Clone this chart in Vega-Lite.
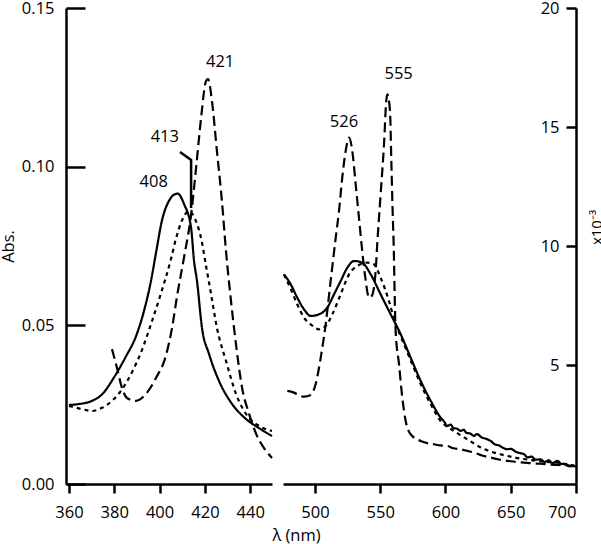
{
  "$schema": "https://vega.github.io/schema/vega-lite/v6.json",
  "autosize": {"type": "pad"},
  "padding": {"left": 0, "top": 0, "right": 0, "bottom": 0},
  "background": "white",
  "config": {
    "view": {"stroke": null},
    "font": "Open Sans",
    "axis": {
      "grid": false,
      "domainColor": "black",
      "domainWidth": 2.5,
      "tickColor": "black",
      "tickWidth": 2.5,
      "labelFont": "Open Sans",
      "labelFontSize": 16.5,
      "labelColor": "black",
      "titleFont": "Open Sans",
      "titleFontSize": 16.5,
      "titleColor": "black",
      "titleFontWeight": "normal"
    }
  },
  "datasets": {
    "left": [
      {"s": "solid", "x": 360, "y": 0.0249}, {"s": "solid", "x": 364.4, "y": 0.0252}, {"s": "solid", "x": 370.2, "y": 0.0262}, {"s": "solid", "x": 374.7, "y": 0.0283}, {"s": "solid", "x": 379.9, "y": 0.0336}, {"s": "solid", "x": 385, "y": 0.04}, {"s": "solid", "x": 389.6, "y": 0.0466}, {"s": "solid", "x": 393.1, "y": 0.0545}, {"s": "solid", "x": 396.2, "y": 0.064}, {"s": "solid", "x": 398.4, "y": 0.0728}, {"s": "solid", "x": 401.1, "y": 0.0832}, {"s": "solid", "x": 404.2, "y": 0.0893}, {"s": "solid", "x": 406, "y": 0.091}, {"s": "solid", "x": 408, "y": 0.0915}, {"s": "solid", "x": 410.8, "y": 0.0882}, {"s": "solid", "x": 413.9, "y": 0.0807}, {"s": "solid", "x": 415.2, "y": 0.0703}, {"s": "solid", "x": 416.5, "y": 0.064}, {"s": "solid", "x": 418.7, "y": 0.0492}, {"s": "solid", "x": 421.8, "y": 0.041}, {"s": "solid", "x": 426.2, "y": 0.0325}, {"s": "solid", "x": 432, "y": 0.0252}, {"s": "solid", "x": 438.1, "y": 0.0205}, {"s": "solid", "x": 443.9, "y": 0.0176}, {"s": "solid", "x": 449.6, "y": 0.0151},
      {"s": "dotted", "x": 360, "y": 0.0246}, {"s": "dotted", "x": 365.7, "y": 0.0236}, {"s": "dotted", "x": 370.2, "y": 0.023}, {"s": "dotted", "x": 374.6, "y": 0.024}, {"s": "dotted", "x": 379, "y": 0.0262}, {"s": "dotted", "x": 383.4, "y": 0.0298}, {"s": "dotted", "x": 387.8, "y": 0.0352}, {"s": "dotted", "x": 392.2, "y": 0.0422}, {"s": "dotted", "x": 396.6, "y": 0.0512}, {"s": "dotted", "x": 400.6, "y": 0.0601}, {"s": "dotted", "x": 405, "y": 0.0708}, {"s": "dotted", "x": 407.2, "y": 0.0772}, {"s": "dotted", "x": 409.9, "y": 0.0831}, {"s": "dotted", "x": 413, "y": 0.086}, {"s": "dotted", "x": 416, "y": 0.0829}, {"s": "dotted", "x": 418.3, "y": 0.0775}, {"s": "dotted", "x": 420.5, "y": 0.0687}, {"s": "dotted", "x": 422.7, "y": 0.0599}, {"s": "dotted", "x": 425.3, "y": 0.0492}, {"s": "dotted", "x": 429.3, "y": 0.0388}, {"s": "dotted", "x": 433.7, "y": 0.0284}, {"s": "dotted", "x": 439.5, "y": 0.0208}, {"s": "dotted", "x": 443.9, "y": 0.0183}, {"s": "dotted", "x": 449.6, "y": 0.0167},
      {"s": "dashed", "x": 379, "y": 0.0425}, {"s": "dashed", "x": 381.2, "y": 0.0366}, {"s": "dashed", "x": 383.4, "y": 0.0303}, {"s": "dashed", "x": 385.6, "y": 0.0271}, {"s": "dashed", "x": 389.6, "y": 0.0262}, {"s": "dashed", "x": 394, "y": 0.0284}, {"s": "dashed", "x": 398.4, "y": 0.0334}, {"s": "dashed", "x": 402.8, "y": 0.0405}, {"s": "dashed", "x": 405.5, "y": 0.0492}, {"s": "dashed", "x": 407.7, "y": 0.0592}, {"s": "dashed", "x": 410.8, "y": 0.0715}, {"s": "dashed", "x": 413.9, "y": 0.0848}, {"s": "dashed", "x": 416.1, "y": 0.0996}, {"s": "dashed", "x": 418.3, "y": 0.1153}, {"s": "dashed", "x": 420.5, "y": 0.127}, {"s": "dashed", "x": 421.4, "y": 0.1276}, {"s": "dashed", "x": 423.1, "y": 0.1207}, {"s": "dashed", "x": 425.3, "y": 0.1049}, {"s": "dashed", "x": 427.5, "y": 0.0892}, {"s": "dashed", "x": 429.3, "y": 0.0734}, {"s": "dashed", "x": 431.5, "y": 0.0577}, {"s": "dashed", "x": 433.7, "y": 0.0441}, {"s": "dashed", "x": 436.4, "y": 0.0303}, {"s": "dashed", "x": 439.5, "y": 0.0221}, {"s": "dashed", "x": 442.6, "y": 0.0158}, {"s": "dashed", "x": 446.1, "y": 0.0113}, {"s": "dashed", "x": 449.6, "y": 0.0082}
    ],
    "right": [
      {"s": "solid", "x": 476.2, "y": 8.81}, {"s": "solid", "x": 481.4, "y": 8.39}, {"s": "solid", "x": 486.4, "y": 7.83}, {"s": "solid", "x": 491.6, "y": 7.34}, {"s": "solid", "x": 496.7, "y": 7.06}, {"s": "solid", "x": 503.1, "y": 7.13}, {"s": "solid", "x": 509.4, "y": 7.41}, {"s": "solid", "x": 514.6, "y": 7.97}, {"s": "solid", "x": 519.7, "y": 8.53}, {"s": "solid", "x": 524.8, "y": 9.09}, {"s": "solid", "x": 529.9, "y": 9.37}, {"s": "solid", "x": 536.2, "y": 9.3}, {"s": "solid", "x": 542.7, "y": 8.81}, {"s": "solid", "x": 550.3, "y": 7.97}, {"s": "solid", "x": 558, "y": 7.13}, {"s": "solid", "x": 565.7, "y": 6.29}, {"s": "solid", "x": 573.3, "y": 5.31}, {"s": "solid", "x": 581, "y": 4.33}, {"s": "solid", "x": 588.7, "y": 3.49}, {"s": "solid", "x": 596.3, "y": 2.79}, {"s": "solid", "x": 599, "y": 2.62}, {"s": "solid", "x": 601.4, "y": 2.44}, {"s": "solid", "x": 604, "y": 2.5}, {"s": "solid", "x": 606, "y": 2.35}, {"s": "solid", "x": 609, "y": 2.32}, {"s": "solid", "x": 611.6, "y": 2.23}, {"s": "solid", "x": 614, "y": 2.28}, {"s": "solid", "x": 616, "y": 2.15}, {"s": "solid", "x": 619, "y": 2.12}, {"s": "solid", "x": 621.8, "y": 2.02}, {"s": "solid", "x": 624, "y": 2.1}, {"s": "solid", "x": 628, "y": 1.95}, {"s": "solid", "x": 631, "y": 1.9}, {"s": "solid", "x": 634.6, "y": 1.81}, {"s": "solid", "x": 638, "y": 1.66}, {"s": "solid", "x": 641, "y": 1.62}, {"s": "solid", "x": 644, "y": 1.52}, {"s": "solid", "x": 647.4, "y": 1.46}, {"s": "solid", "x": 650, "y": 1.48}, {"s": "solid", "x": 654, "y": 1.35}, {"s": "solid", "x": 657, "y": 1.3}, {"s": "solid", "x": 660.2, "y": 1.25}, {"s": "solid", "x": 663, "y": 1.12}, {"s": "solid", "x": 666, "y": 1.15}, {"s": "solid", "x": 669, "y": 1.02}, {"s": "solid", "x": 672.9, "y": 1.04}, {"s": "solid", "x": 676, "y": 0.92}, {"s": "solid", "x": 679, "y": 1.0}, {"s": "solid", "x": 682, "y": 0.88}, {"s": "solid", "x": 685.7, "y": 0.97}, {"s": "solid", "x": 689, "y": 0.84}, {"s": "solid", "x": 692, "y": 0.85}, {"s": "solid", "x": 695, "y": 0.74}, {"s": "solid", "x": 698.5, "y": 0.76}, {"s": "solid", "x": 700, "y": 0.72},
      {"s": "dotted", "x": 476.2, "y": 8.8}, {"s": "dotted", "x": 481.4, "y": 8.2}, {"s": "dotted", "x": 486.4, "y": 7.55}, {"s": "dotted", "x": 491.6, "y": 6.99}, {"s": "dotted", "x": 496.7, "y": 6.71}, {"s": "dotted", "x": 503.1, "y": 6.5}, {"s": "dotted", "x": 508.2, "y": 6.64}, {"s": "dotted", "x": 513.3, "y": 7.13}, {"s": "dotted", "x": 519.7, "y": 7.97}, {"s": "dotted", "x": 526.1, "y": 8.81}, {"s": "dotted", "x": 532.4, "y": 9.16}, {"s": "dotted", "x": 540.1, "y": 9.3}, {"s": "dotted", "x": 545.2, "y": 9.23}, {"s": "dotted", "x": 550.3, "y": 8.67}, {"s": "dotted", "x": 556.7, "y": 7.69}, {"s": "dotted", "x": 561.8, "y": 6.71}, {"s": "dotted", "x": 565.7, "y": 6.2}, {"s": "dotted", "x": 573.3, "y": 5.2}, {"s": "dotted", "x": 581, "y": 4.2}, {"s": "dotted", "x": 588.7, "y": 3.35}, {"s": "dotted", "x": 596.3, "y": 2.65}, {"s": "dotted", "x": 601.4, "y": 2.4}, {"s": "dotted", "x": 606.5, "y": 2.23}, {"s": "dotted", "x": 611.6, "y": 2.05}, {"s": "dotted", "x": 616.7, "y": 1.88}, {"s": "dotted", "x": 622, "y": 1.7}, {"s": "dotted", "x": 627, "y": 1.53}, {"s": "dotted", "x": 632, "y": 1.42}, {"s": "dotted", "x": 637.2, "y": 1.32}, {"s": "dotted", "x": 642, "y": 1.25}, {"s": "dotted", "x": 647.4, "y": 1.18}, {"s": "dotted", "x": 654, "y": 1.1}, {"s": "dotted", "x": 660.2, "y": 1.05}, {"s": "dotted", "x": 666, "y": 1.0}, {"s": "dotted", "x": 672.9, "y": 0.95}, {"s": "dotted", "x": 679, "y": 0.92}, {"s": "dotted", "x": 685.7, "y": 0.9}, {"s": "dotted", "x": 692, "y": 0.82}, {"s": "dotted", "x": 698.5, "y": 0.78},
      {"s": "dashed", "x": 478.8, "y": 3.91}, {"s": "dashed", "x": 483.9, "y": 3.84}, {"s": "dashed", "x": 488, "y": 3.72}, {"s": "dashed", "x": 491.6, "y": 3.67}, {"s": "dashed", "x": 496.7, "y": 3.74}, {"s": "dashed", "x": 500.5, "y": 4.19}, {"s": "dashed", "x": 504.4, "y": 5.31}, {"s": "dashed", "x": 508.2, "y": 6.71}, {"s": "dashed", "x": 512, "y": 8.53}, {"s": "dashed", "x": 515.9, "y": 10.35}, {"s": "dashed", "x": 518.4, "y": 11.47}, {"s": "dashed", "x": 520.9, "y": 12.87}, {"s": "dashed", "x": 523.5, "y": 13.99}, {"s": "dashed", "x": 526.1, "y": 14.55}, {"s": "dashed", "x": 528.6, "y": 13.99}, {"s": "dashed", "x": 531.2, "y": 12.59}, {"s": "dashed", "x": 533.7, "y": 11.19}, {"s": "dashed", "x": 536.2, "y": 9.79}, {"s": "dashed", "x": 538.5, "y": 8.7}, {"s": "dashed", "x": 541.4, "y": 7.83}, {"s": "dashed", "x": 543.5, "y": 7.9}, {"s": "dashed", "x": 546.5, "y": 8.95}, {"s": "dashed", "x": 547.7, "y": 10.07}, {"s": "dashed", "x": 550.3, "y": 12.17}, {"s": "dashed", "x": 552.9, "y": 14.27}, {"s": "dashed", "x": 554.6, "y": 16.09}, {"s": "dashed", "x": 555.4, "y": 16.37}, {"s": "dashed", "x": 557.5, "y": 15.67}, {"s": "dashed", "x": 558.5, "y": 13.57}, {"s": "dashed", "x": 559.5, "y": 11.47}, {"s": "dashed", "x": 560.5, "y": 9.6}, {"s": "dashed", "x": 561.1, "y": 7.83}, {"s": "dashed", "x": 561.8, "y": 6.43}, {"s": "dashed", "x": 564.4, "y": 5.03}, {"s": "dashed", "x": 566.9, "y": 3.63}, {"s": "dashed", "x": 569.5, "y": 2.65}, {"s": "dashed", "x": 573.3, "y": 2.09}, {"s": "dashed", "x": 581, "y": 1.81}, {"s": "dashed", "x": 586, "y": 1.72}, {"s": "dashed", "x": 591.2, "y": 1.67}, {"s": "dashed", "x": 596, "y": 1.62}, {"s": "dashed", "x": 601.4, "y": 1.6}, {"s": "dashed", "x": 606, "y": 1.5}, {"s": "dashed", "x": 611.6, "y": 1.46}, {"s": "dashed", "x": 616, "y": 1.4}, {"s": "dashed", "x": 621.8, "y": 1.32}, {"s": "dashed", "x": 628, "y": 1.2}, {"s": "dashed", "x": 634.6, "y": 1.11}, {"s": "dashed", "x": 641, "y": 1.03}, {"s": "dashed", "x": 647.4, "y": 0.97}, {"s": "dashed", "x": 654, "y": 0.93}, {"s": "dashed", "x": 660.2, "y": 0.9}, {"s": "dashed", "x": 666, "y": 0.87}, {"s": "dashed", "x": 672.9, "y": 0.85}, {"s": "dashed", "x": 680, "y": 0.82}, {"s": "dashed", "x": 686, "y": 0.8}, {"s": "dashed", "x": 692, "y": 0.78}, {"s": "dashed", "x": 698.5, "y": 0.75}
    ],
    "leftLabels": [
      {"x": 426.7, "y": 0.133, "t": "421"},
      {"x": 402.3, "y": 0.1094, "t": "413"},
      {"x": 397.4, "y": 0.0952, "t": "408"}
    ],
    "pointer": [
      {"x": 409, "y": 0.1046, "o": 1},
      {"x": 413.9, "y": 0.1021, "o": 2},
      {"x": 413.9, "y": 0.087, "o": 3}
    ],
    "rightLabels": [
      {"x": 522.2, "y": 15.22, "t": "526"},
      {"x": 564.1, "y": 17.23, "t": "555"}
    ]
  },
  "spacing": 11,
  "bounds": "flush",
  "hconcat": [
    {
      "width": 206,
      "height": 476,
      "encoding": {
        "x": {
          "field": "x", "type": "quantitative",
          "scale": {"domain": [358.7, 449.6], "nice": false, "zero": false},
          "axis": {"values": [360, 380, 400, 420, 440], "title": null, "tickSize": 9, "labelPadding": 11}
        },
        "y": {
          "field": "y", "type": "quantitative",
          "scale": {"domain": [0, 0.15], "nice": false, "zero": false},
          "axis": {"values": [0, 0.05, 0.1, 0.15], "format": ".2f", "tickSize": -19, "labelPadding": 31, "title": "Abs.", "titleX": -58, "titleY": 238, "titleAngle": 270, "titleAlign": "center", "titleBaseline": "middle"}
        }
      },
      "layer": [
        {
          "data": {"name": "left"},
          "mark": {"type": "line", "color": "black", "strokeWidth": 2.2, "interpolate": "monotone"},
          "encoding": {
            "detail": {"field": "s"},
            "strokeDash": {"field": "s", "type": "nominal", "scale": {"domain": ["solid", "dotted", "dashed"], "range": [[1, 0], [4, 4], [10, 5]]}, "legend": null}
          }
        },
        {
          "data": {"name": "pointer"},
          "mark": {"type": "line", "color": "black", "strokeWidth": 2.5},
          "encoding": {"order": {"field": "o", "type": "quantitative"}}
        },
        {
          "data": {"name": "leftLabels"},
          "mark": {"type": "text", "fontSize": 16.5, "font": "Open Sans", "color": "black", "align": "center", "baseline": "middle"},
          "encoding": {"text": {"field": "t"}}
        }
      ]
    },
    {
      "width": 293,
      "height": 476,
      "encoding": {
        "x": {
          "field": "x", "type": "quantitative",
          "scale": {"domain": [475.5, 700], "nice": false, "zero": false},
          "axis": {"values": [500, 550, 600, 650, 700], "title": "λ (nm)", "titleX": 13, "titleY": 51, "titleAlign": "center", "titleBaseline": "middle", "tickSize": 9, "labelPadding": 11}
        },
        "y": {
          "field": "y", "type": "quantitative",
          "scale": {"domain": [0, 20], "nice": false, "zero": false},
          "axis": {"orient": "right", "values": [5, 10, 15, 20], "tickSize": -10, "labelPadding": -7, "labelAlign": "right", "title": "x10⁻³", "titleFontSize": 15, "titleX": 20, "titleY": 219, "titleAngle": 270, "titleAlign": "center", "titleBaseline": "middle"}
        }
      },
      "layer": [
        {
          "data": {"name": "right"},
          "mark": {"type": "line", "color": "black", "strokeWidth": 2.2, "interpolate": "monotone"},
          "encoding": {
            "detail": {"field": "s"},
            "strokeDash": {"field": "s", "type": "nominal", "scale": {"domain": ["solid", "dotted", "dashed"], "range": [[1, 0], [4, 4], [10, 5]]}, "legend": null}
          }
        },
        {
          "data": {"name": "rightLabels"},
          "mark": {"type": "text", "fontSize": 16.5, "font": "Open Sans", "color": "black", "align": "center", "baseline": "middle"},
          "encoding": {"text": {"field": "t"}}
        }
      ]
    }
  ]
}
